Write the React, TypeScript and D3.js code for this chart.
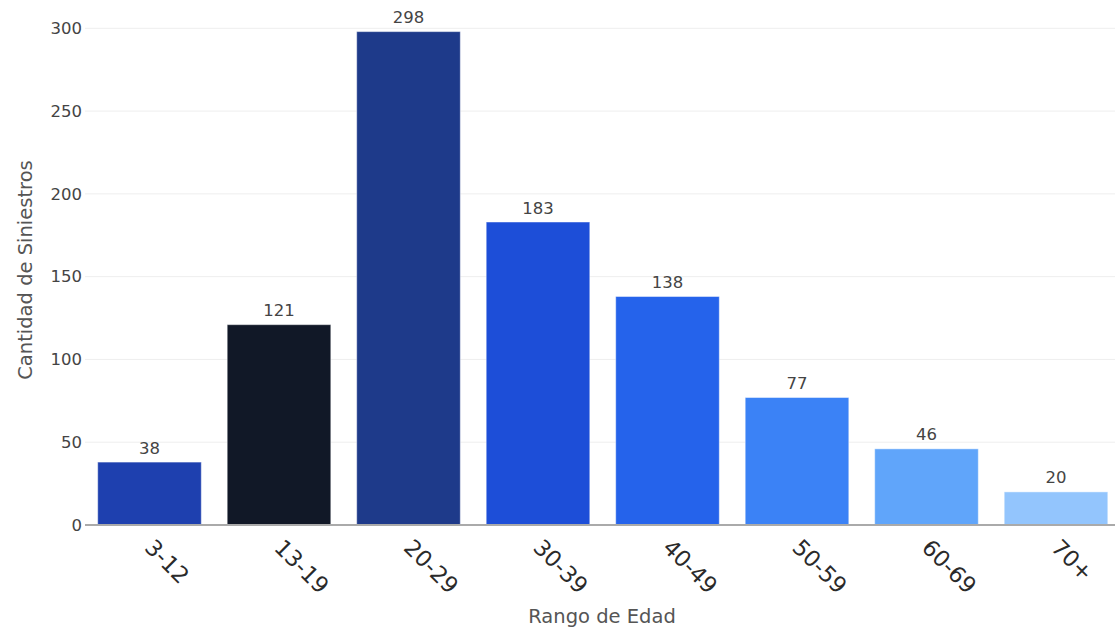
import React from "react";
import * as d3 from "d3";

const categories = ["3-12", "13-19", "20-29", "30-39", "40-49", "50-59", "60-69", "70+"];
const values = [38, 121, 298, 183, 138, 77, 46, 20];
const colors = ["#1e40af", "#111827", "#1e3a8a", "#1d4ed8", "#2563eb", "#3b82f6", "#60a5fa", "#93c5fd"];
const yTicks = [0, 50, 100, 150, 200, 250, 300];

const W = 1115;
const H = 631;
const FONT = "'DejaVu Sans', Verdana, sans-serif";

export default function App() {
  const x = d3.scaleBand<string>().domain(categories).range([84.75, 1120.75]).paddingInner(0.2).paddingOuter(0.1);
  const y = d3.scaleLinear().domain([0, 300]).range([525, 28.3]);
  const left = 85;

  return (
    <svg width={W} height={H} style={{ position: "fixed", left: 0, top: 0, background: "#fff" }}>
      {yTicks.filter((t) => t > 0).map((t) => (
        <line key={"g" + t} x1={left} x2={W} y1={y(t)} y2={y(t)} stroke="#eeeeee" strokeWidth={1} />
      ))}
      {yTicks.map((t) => (
        <text key={"t" + t} x={82} y={y(t)} dy="0.35em" textAnchor="end" fontFamily={FONT} fontSize={16.5} fill="#444">
          {t}
        </text>
      ))}
      {categories.map((c, i) => (
        <g key={c}>
          <rect
            x={x(c)!}
            y={y(values[i])}
            width={x.bandwidth()}
            height={y(0) - y(values[i])}
            fill={colors[i]}
            stroke="rgba(255,255,255,0.45)"
            strokeWidth={1}
          />
          <text
            x={x(c)! + x.bandwidth() / 2}
            y={y(values[i]) - 8.5}
            textAnchor="middle"
            fontFamily={FONT}
            fontSize={16.5}
            fill="#444"
          >
            {values[i]}
          </text>
          <text
            transform={`translate(${x(c)! + x.bandwidth() / 2 + 6},${537}) rotate(45)`}
            textAnchor="start"
            dy="0.75em"
            fontFamily={FONT}
            fontSize={22.5}
            fill="#2a2a2a"
          >
            {c}
          </text>
        </g>
      ))}
      <line x1={left} x2={W} y1={y(0)} y2={y(0)} stroke="#aaaaaa" strokeWidth={2} />
      <text x={602} y={623} textAnchor="middle" fontFamily={FONT} fontSize={19.5} fill="#555">
        Rango de Edad
      </text>
      <text transform={`translate(32,270) rotate(-90)`} textAnchor="middle" fontFamily={FONT} fontSize={19.5} fill="#555">
        Cantidad de Siniestros
      </text>
    </svg>
  );
}
